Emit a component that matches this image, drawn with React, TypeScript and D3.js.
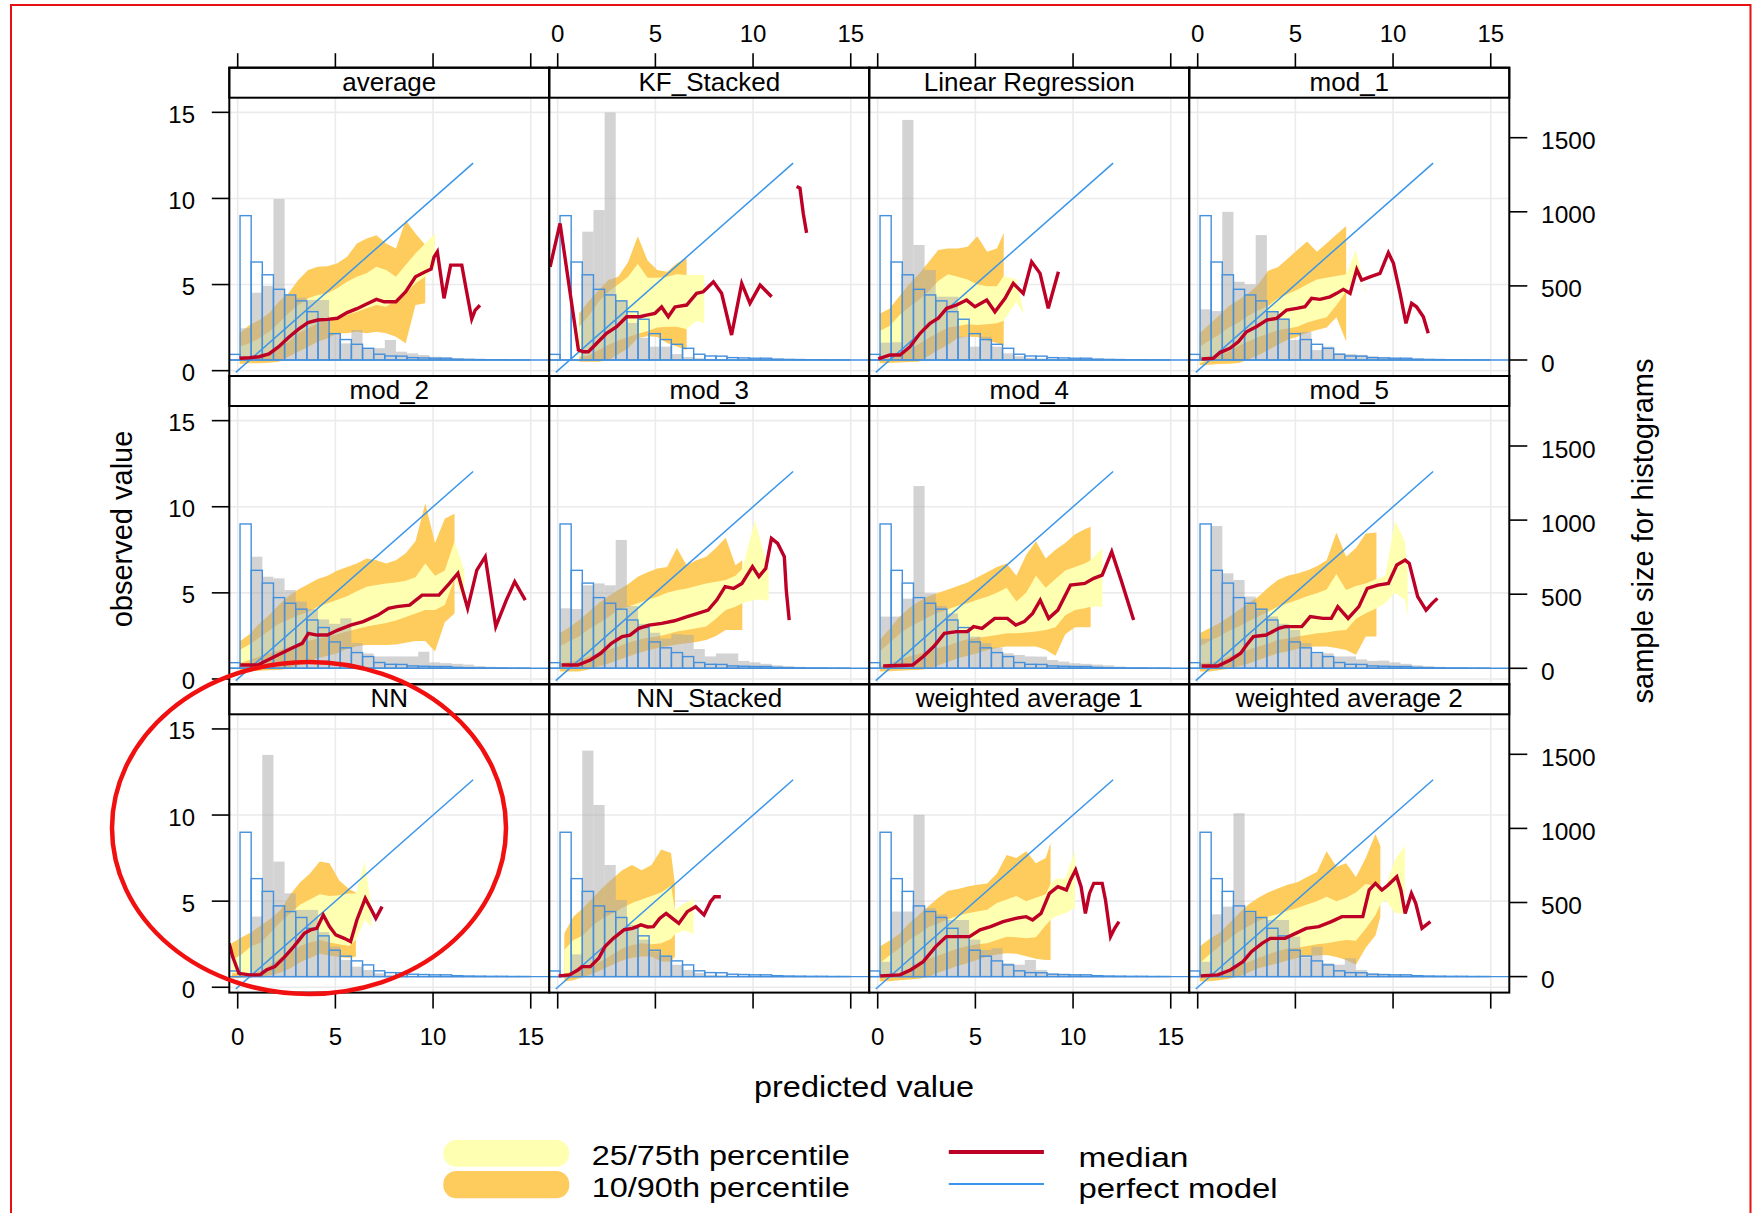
import React from "react";
import * as d3 from "d3";

// ---------- categories / ticks ----------
const PANEL_NAMES = [
  "average", "KF_Stacked", "Linear Regression", "mod_1",
  "mod_2", "mod_3", "mod_4", "mod_5",
  "NN", "NN_Stacked", "weighted average 1", "weighted average 2",
];
const X_TICKS = [0, 5, 10, 15];
const Y_TICKS = [0, 5, 10, 15];
const COUNT_TICKS = [0, 500, 1000, 1500];
const BIN_START = -0.45;
const BIN_WIDTH = 0.57;
const PERFECT_RANGE = [-0.1, 12.05];

// histogram of observed values (blue outline, same in every panel)
const OBS_COUNTS = [38, 974, 661, 575, 477, 439, 399, 326, 275, 178, 138, 106, 79, 39, 27, 26, 16, 14, 12, 12, 6, 4, 3, 2, 2, 1, 1, 0, 0, 0];

// ---------- average ----------
const avgXs = [0.1, 0.6, 1.1, 1.6, 2.1, 2.6, 3.1, 3.6, 4.1, 4.6, 5.1, 5.6, 6.1, 6.6, 7.1, 7.6, 8.1, 8.6, 9.1, 9.6, 10.1];
const avgQ10 = [0.39, 0.43, 0.43, 0.46, 0.52, 0.81, 1.1, 1.39, 1.68, 1.88, 2.17, 2.17, 2.26, 2.17, 2.26, 2.17, 1.97, 1.59, 3.81, 3.91, null];
const avgQ25 = [0.62, 0.72, 0.81, 1.01, 1.3, 1.68, 2.17, 2.46, 2.75, 2.94, 3.13, 3.23, 3.42, 3.62, 3.81, 3.71, 4.1, 4.49, 5.07, 5.45, 6.03];
const avgQ75 = [1.39, 1.59, 1.88, 2.26, 2.75, 3.33, 3.81, 4.2, 4.39, 4.49, 4.78, 5.16, 5.45, 5.65, 6.03, 5.84, 5.45, 6.13, 6.81, 7.39, 7.97];
const avgQ90 = [2.17, 2.65, 2.94, 3.33, 4.0, 4.49, 5.26, 5.84, 6.03, 6.07, 6.23, 6.62, 7.39, 7.68, 7.87, 7.39, 7.1, 8.74, 7.97, 7.3, null];
const avgMed = [[0.1, 0.72], [0.6, 0.75], [1.1, 0.81], [1.6, 0.97], [2.1, 1.39], [2.6, 1.93], [3.1, 2.4], [3.6, 2.79], [4.1, 2.94], [4.6, 2.98], [5.1, 3.04], [5.6, 3.37], [6.1, 3.6], [6.6, 3.87], [7.1, 4.14], [7.5, 4.0], [8.1, 4.0], [8.6, 4.58], [9.1, 5.45], [9.6, 5.74], [9.9, 5.9], [10.05, 6.6], [10.22, 6.9], [10.56, 4.2], [10.9, 6.13], [11.47, 6.13], [11.7, 4.7], [11.98, 3.0], [12.15, 3.5], [12.4, 3.8]];
const avgGray = [0, 214, 454, 500, 1086, 439, 420, 405, 405, 180, 112, 202, 75, 80, 135, 56, 45, 34, 22, 18, 11, 9, 5, 3, 2, 1, 0, 0, 0, 0];

// ---------- KF_Stacked ----------
const kfXs = [1.1, 1.6, 2.1, 2.6, 3.1, 3.6, 4.1, 4.6, 5.1, 5.6, 6.1, 6.6, 7.1, 7.5];
const kfQ10 = [0.52, 0.52, 0.52, 0.6, 0.95, 1.3, 1.9, 2.0, 1.95, 1.6, 1.4, 1.2, null, null];
const kfQ25 = [0.81, 0.9, 1.2, 1.5, 1.75, 1.95, 2.15, 2.3, 2.5, 2.55, 2.55, 2.4, 2.9, 2.75];
const kfQ75 = [2.55, 3.2, 4.0, 4.6, 5.0, 5.45, 6.2, 5.4, 5.4, 5.45, 5.6, 5.55, 5.55, 5.55];
const kfQ90 = [3.33, 4.05, 4.68, 5.26, 5.45, 6.3, 7.8, 6.4, 5.84, 5.75, 6.23, 6.52, null, null];
const kfMed = [[-0.39, 6.03], [0.12, 8.55], [1.06, 1.2], [1.31, 1.1], [1.57, 1.1], [2.0, 1.59], [2.5, 2.17], [3.02, 2.55], [3.53, 3.13], [4.21, 3.13], [4.55, 3.23], [4.98, 3.33], [5.32, 3.7], [5.66, 3.13], [6.0, 3.7], [6.6, 3.81], [7.11, 4.49], [7.45, 4.58], [7.97, 5.16], [8.39, 4.49], [8.9, 2.07], [9.42, 5.07], [9.84, 3.91], [10.36, 4.97], [10.95, 4.29], null, [12.23, 10.7], [12.4, 10.6], [12.57, 9.13], [12.74, 8.0]];
const kfGray = [0, 0, 0, 866, 1012, 1670, 400, 250, 150, 90, 90, 40, 20, 12, 8, 5, 3, 2, 1, 0, 0, 0, 0, 0, 0, 0, 0, 0, 0, 0];

// ---------- Linear Regression ----------
const lrXs = [0.1, 0.6, 1.1, 1.6, 2.1, 2.6, 3.1, 3.6, 4.1, 4.6, 5.1, 5.6, 6.1, 6.45, 7.1, 7.45];
const lrQ10 = [0.43, 0.45, 0.48, 0.5, 0.52, 0.85, 1.2, 1.5, 1.9, 1.97, 1.95, 1.75, 1.6, 1.45, null, null];
const lrQ25 = [0.62, 0.7, 0.9, 1.2, 1.55, 1.9, 2.2, 2.5, 2.6, 2.7, 2.65, 2.7, 2.75, 2.9, 4.0, 3.3];
const lrQ75 = [2.3, 2.6, 3.2, 3.7, 4.1, 4.6, 5.2, 5.6, 5.45, 5.3, 5.0, 4.9, 4.9, 5.5, 5.3, 3.5];
const lrQ90 = [3.3, 3.6, 4.3, 5.0, 5.6, 6.3, 7.0, 7.1, 7.1, 7.2, 7.8, 6.9, 7.1, 8.0, null, null];
const lrMed = [[0.03, 0.68], [0.63, 0.91], [1.14, 0.91], [1.65, 1.39], [2.17, 2.17], [2.68, 2.75], [3.1, 3.04], [3.53, 3.62], [4.04, 3.81], [4.55, 4.1], [4.98, 3.71], [5.58, 4.1], [6.0, 3.42], [6.52, 4.2], [6.94, 5.07], [7.45, 4.49], [7.88, 6.32], [8.31, 5.65], [8.73, 3.62], [8.99, 4.68], [9.25, 5.74]];
const lrGray = [0, 117, 120, 1620, 776, 607, 427, 427, 157, 90, 157, 90, 45, 25, 15, 10, 8, 5, 3, 2, 1, 0, 0, 0, 0, 0, 0, 0, 0, 0];

// ---------- mod_1 ----------
const m1Xs = [0.1, 0.6, 1.1, 1.6, 2.1, 2.6, 3.1, 3.6, 4.1, 4.6, 5.1, 5.6, 6.1, 6.6, 7.1, 7.6, 8.1, 8.6];
const m1Q10 = [0.33, 0.35, 0.38, 0.4, 0.45, 0.65, 0.9, 1.2, 1.5, 1.8, 1.97, 2.2, 2.36, 2.5, 3.1, 1.7, null, null];
const m1Q25 = [0.43, 0.65, 0.9, 1.1, 1.45, 1.7, 1.95, 2.15, 2.35, 2.45, 2.55, 2.8, 2.95, 3.1, 3.8, 4.6, 5.6, 4.8];
const m1Q75 = [1.39, 1.75, 2.1, 2.5, 2.8, 3.2, 3.5, 3.75, 4.2, 4.45, 4.7, 5.0, 5.3, 5.4, 5.5, 5.6, 7.0, 4.5];
const m1Q90 = [2.17, 2.7, 3.2, 3.75, 4.1, 4.5, 5.0, 5.8, 6.0, 6.5, 7.0, 7.5, 6.9, 7.4, 7.9, 8.4, null, null];
const m1Med = [[0.2, 0.68], [0.8, 0.72], [1.14, 1.05], [1.65, 1.3], [2.08, 1.68], [2.5, 2.26], [3.0, 2.55], [3.53, 2.94], [4.04, 3.04], [4.55, 3.52], [5.07, 3.62], [5.49, 3.71], [5.83, 4.2], [6.26, 4.14], [6.77, 4.29], [7.11, 4.49], [7.45, 4.72], [7.8, 4.49], [8.14, 5.88], [8.39, 5.26], [8.82, 5.45], [9.33, 5.65], [9.76, 6.85], [10.02, 6.23], [10.36, 4.49], [10.66, 2.75], [10.95, 3.91], [11.2, 3.71], [11.55, 3.13], [11.8, 2.17]];
const m1Gray = [0, 342, 330, 1000, 528, 510, 843, 326, 281, 135, 190, 67, 90, 45, 40, 35, 25, 20, 15, 10, 8, 5, 4, 3, 2, 1, 1, 0, 0, 0];

// ---------- mod_2 ----------
const m2Xs = [0.1, 0.6, 1.1, 1.6, 2.1, 2.6, 3.1, 3.6, 4.1, 4.6, 5.1, 5.6, 6.1, 6.6, 7.1, 7.6, 8.1, 8.6, 9.1, 9.6, 10.1, 10.6, 11.1, 11.6];
const m2Q10 = [0.43, 0.45, 0.48, 0.5, 0.52, 0.6, 0.8, 1.0, 1.2, 1.35, 1.5, 1.75, 1.9, 1.97, 1.97, 1.97, 2.0, 2.1, 2.2, 2.2, 1.6, 3.3, 3.8, null];
const m2Q25 = [0.91, 1.1, 1.3, 1.5, 1.65, 1.85, 2.0, 2.2, 2.35, 2.45, 2.6, 2.75, 2.9, 3.05, 3.15, 3.25, 3.4, 3.6, 3.8, 4.0, 4.0, 4.3, 5.8, 4.5];
const m2Q75 = [1.68, 2.0, 2.4, 2.8, 3.2, 3.45, 3.7, 3.9, 4.2, 4.4, 4.6, 4.8, 5.1, 5.35, 5.45, 5.55, 5.6, 5.7, 5.9, 6.7, 6.0, 6.3, 8.0, 6.3];
const m2Q90 = [2.17, 2.6, 3.2, 3.7, 4.3, 4.8, 5.2, 5.5, 5.8, 6.0, 6.3, 6.5, 6.7, 7.0, 6.9, 6.7, 6.9, 7.3, 8.0, 10.2, 7.9, 9.3, 9.6, null];
const m2Med = [[0.13, 0.81], [1.03, 0.81], [1.9, 1.3], [2.76, 1.78], [3.3, 2.07], [3.62, 2.65], [4.05, 2.55], [4.59, 2.55], [5.13, 2.84], [5.78, 3.13], [6.42, 3.33], [7.18, 3.71], [7.72, 4.1], [8.15, 4.2], [8.8, 4.29], [9.44, 4.87], [10.3, 4.87], [10.84, 5.55], [11.27, 6.13], [11.77, 4.1], [12.24, 6.32], [12.67, 7.1], [13.21, 3.04], [13.75, 4.58], [14.18, 5.65], [14.72, 4.58]];
const m2Gray = [0, 30, 753, 618, 607, 528, 450, 400, 330, 300, 337, 170, 100, 80, 80, 80, 80, 112, 40, 35, 30, 25, 15, 10, 5, 3, 2, 1, 0, 0];

// ---------- mod_3 ----------
const m3Xs = [0.1, 0.6, 1.1, 1.6, 2.1, 2.6, 3.1, 3.6, 4.1, 4.6, 5.1, 5.6, 6.1, 6.6, 7.1, 7.6, 8.1, 8.6, 9.1, 9.45, 10.1, 10.6, 10.8];
const m3Q10 = [0.43, 0.43, 0.43, 0.55, 0.72, 0.9, 1.1, 1.3, 1.5, 1.65, 1.8, 1.9, 2.0, 2.07, 2.15, 2.26, 2.5, 2.84, 2.84, 2.84, null, null, null];
const m3Q25 = [0.91, 1.0, 1.1, 1.3, 1.49, 1.7, 1.88, 2.1, 2.26, 2.4, 2.46, 2.6, 2.75, 2.84, 2.95, 3.04, 3.5, 4.0, 4.2, 4.4, 4.6, 4.6, 4.5];
const m3Q75 = [1.88, 2.2, 2.46, 2.9, 3.23, 3.6, 4.0, 4.2, 4.4, 4.6, 4.78, 5.0, 5.15, 5.26, 5.4, 5.55, 5.65, 5.74, 6.0, 6.4, 9.2, 7.1, 6.3];
const m3Q90 = [2.65, 3.0, 3.42, 3.9, 4.39, 4.8, 5.16, 5.5, 5.94, 6.2, 6.42, 6.5, 7.6, 6.6, 6.9, 7.1, 7.6, 8.2, 6.6, 6.9, null, null, null];
const m3Med = [[0.2, 0.81], [1.03, 0.81], [1.67, 1.1], [2.2, 1.49], [2.75, 2.07], [3.3, 2.46], [3.7, 2.55], [4.15, 2.94], [4.68, 3.13], [5.33, 3.23], [5.98, 3.38], [6.63, 3.62], [7.17, 3.81], [7.7, 4.0], [8.14, 4.58], [8.57, 5.36], [9.0, 5.26], [9.43, 5.55], [9.97, 6.52], [10.3, 5.94], [10.65, 6.42], [10.94, 8.16], [11.26, 7.87], [11.6, 7.1], [11.7, 5.16], [11.85, 3.42]];
const m3Gray = [0, 405, 400, 560, 573, 560, 866, 420, 300, 240, 200, 230, 225, 130, 80, 100, 100, 50, 40, 30, 20, 15, 10, 5, 3, 2, 1, 0, 0, 0];

// ---------- mod_4 ----------
const m4Xs = [0.1, 0.6, 1.1, 1.6, 2.1, 2.6, 3.1, 3.6, 4.1, 4.6, 5.1, 5.6, 6.1, 6.6, 7.1, 7.6, 8.1, 8.6, 9.1, 9.6, 10.1, 10.6, 10.9, 11.5];
const m4Q10 = [0.43, 0.45, 0.48, 0.5, 0.52, 0.6, 0.8, 1.0, 1.2, 1.35, 1.5, 1.68, 1.8, 1.88, 1.88, 1.88, 1.88, 1.7, 1.35, 2.6, 3.0, 3.0, 3.0, null];
const m4Q25 = [0.72, 0.9, 1.1, 1.3, 1.45, 1.6, 1.8, 1.95, 2.15, 2.3, 2.4, 2.46, 2.55, 2.65, 2.65, 2.7, 2.75, 2.84, 3.0, 3.7, 4.0, 4.1, 4.2, 4.2];
const m4Q75 = [1.59, 2.1, 2.6, 3.0, 3.3, 3.6, 3.85, 4.05, 4.25, 4.4, 4.6, 4.78, 5.0, 5.3, 4.5, 5.0, 6.0, 5.3, 5.8, 6.3, 6.5, 6.7, 6.9, 7.6];
const m4Q90 = [2.26, 2.9, 3.6, 4.1, 4.5, 4.8, 5.0, 5.2, 5.4, 5.6, 5.9, 6.2, 6.5, 6.7, 6.0, 7.2, 8.0, 7.0, 7.5, 7.9, 8.4, 8.7, 8.84, null];
const m4Med = [[0.28, 0.75], [1.79, 0.81], [2.33, 1.3], [2.87, 1.88], [3.41, 2.65], [4.05, 2.75], [4.59, 2.75], [4.91, 3.04], [5.34, 2.94], [5.99, 3.52], [6.64, 3.52], [7.07, 3.13], [7.5, 3.33], [7.93, 3.81], [8.32, 4.58], [8.75, 3.52], [9.22, 4.0], [9.87, 5.45], [10.6, 5.55], [11.06, 5.84], [11.49, 6.03], [11.98, 7.39], [12.46, 5.74], [13.1, 3.42]];
const m4Gray = [0, 349, 349, 470, 1230, 506, 420, 370, 259, 214, 169, 140, 101, 90, 80, 79, 56, 45, 34, 30, 25, 20, 12, 8, 5, 3, 2, 1, 0, 0];

// ---------- mod_5 ----------
const m5Xs = [0.1, 0.6, 1.1, 1.6, 2.1, 2.6, 3.1, 3.6, 4.1, 4.6, 5.1, 5.6, 6.1, 6.6, 7.1, 7.6, 8.1, 8.6, 9.15, 9.6, 10.1, 10.6, 10.75];
const m5Q10 = [0.43, 0.43, 0.5, 0.6, 0.72, 0.9, 1.1, 1.3, 1.49, 1.6, 1.75, 1.85, 1.88, 1.88, 1.8, 1.68, 1.4, 2.46, 2.46, null, null, null, null];
const m5Q25 = [0.91, 0.95, 1.05, 1.3, 1.49, 1.7, 1.88, 2.05, 2.26, 2.35, 2.46, 2.55, 2.65, 2.7, 2.8, 2.84, 3.5, 3.81, 4.1, 4.4, 5.0, 4.6, 3.6];
const m5Q75 = [1.88, 2.2, 2.46, 2.8, 3.04, 3.35, 3.62, 3.9, 4.2, 4.4, 4.58, 4.8, 4.97, 5.2, 6.1, 5.16, 5.4, 5.55, 5.8, 6.0, 9.2, 8.0, 6.3];
const m5Q90 = [2.65, 2.95, 3.23, 3.6, 4.0, 4.4, 4.78, 5.3, 5.74, 6.0, 6.13, 6.3, 6.55, 6.9, 8.5, 7.1, 7.6, 8.45, 8.5, null, null, null, null];
const m5Med = [[0.2, 0.75], [1.03, 0.75], [1.67, 1.1], [2.2, 1.49], [2.5, 1.97], [2.85, 2.46], [3.5, 2.55], [4.15, 2.94], [4.47, 3.04], [5.33, 3.04], [5.76, 3.62], [6.41, 3.52], [6.84, 3.52], [7.17, 4.2], [7.7, 3.52], [8.25, 4.2], [8.68, 5.26], [9.22, 5.45], [9.76, 5.55], [10.19, 6.62], [10.62, 6.9], [10.83, 6.71], [11.26, 4.78], [11.69, 4.0], [12.0, 4.39], [12.27, 4.68]];
const m5Gray = [0, 200, 960, 641, 596, 484, 390, 350, 300, 259, 170, 100, 101, 80, 80, 60, 50, 52, 40, 30, 20, 15, 10, 5, 3, 2, 1, 0, 0, 0];

// ---------- NN ----------
const nnXs = [-0.3, 0.2, 0.7, 1.2, 1.7, 2.2, 2.7, 3.2, 3.7, 4.2, 4.7, 5.2, 5.7, 6.05, 6.5, 6.85];
const nnQ10 = [0.52, 0.55, 0.58, 0.62, 0.7, 0.85, 1.1, 1.45, 1.7, 1.95, 1.85, 1.75, 1.7, 1.78, null, null];
const nnQ25 = [0.81, 0.81, 0.81, 0.95, 1.3, 1.7, 2.05, 2.4, 2.6, 2.75, 2.6, 2.5, 2.4, 2.75, 3.9, 3.5];
const nnQ75 = [1.59, 1.9, 2.4, 2.6, 3.2, 3.8, 4.3, 4.8, 5.1, 5.4, 5.3, 5.35, 5.45, 5.45, 7.3, 4.6];
const nnQ90 = [2.55, 2.9, 3.2, 3.6, 4.0, 4.5, 5.4, 6.1, 6.6, 7.3, 7.2, 6.2, 5.7, 5.5, null, null];
const nnMed = [[-0.43, 2.55], [-0.26, 1.78], [0.06, 0.81], [0.6, 0.72], [1.14, 0.72], [1.47, 1.0], [1.9, 1.2], [2.33, 1.68], [2.87, 2.36], [3.41, 3.13], [3.73, 3.33], [4.05, 3.42], [4.38, 4.2], [4.7, 3.52], [5.02, 3.04], [5.45, 2.84], [5.78, 2.65], [6.1, 3.91], [6.53, 5.16], [6.85, 4.49], [7.07, 4.0], [7.39, 4.68]];
const nnGray = [0, 0, 405, 1496, 776, 562, 450, 450, 300, 202, 112, 67, 45, 22, 12, 8, 5, 3, 2, 1, 0, 0, 0, 0, 0, 0, 0, 0, 0, 0];

// ---------- NN_Stacked ----------
const nsXs = [0.34, 0.8, 1.3, 1.8, 2.3, 2.8, 3.3, 3.8, 4.3, 4.8, 5.3, 5.8, 6.0, 6.5, 6.95];
const nsQ10 = [0.33, 0.4, 0.6, 0.78, 1.05, 1.3, 1.55, 1.72, 1.78, 1.78, 1.5, 1.5, 1.78, null, null];
const nsQ25 = [0.81, 0.9, 1.1, 1.3, 1.55, 1.9, 2.25, 2.45, 2.55, 2.5, 2.55, 2.8, 3.1, 3.3, 3.1];
const nsQ75 = [2.17, 2.75, 3.0, 3.6, 4.0, 4.3, 4.6, 4.9, 5.1, 5.3, 5.5, 5.9, 4.5, 4.9, 5.1];
const nsQ90 = [3.13, 4.1, 4.6, 5.2, 5.8, 6.3, 6.8, 7.1, 6.8, 7.1, 8.0, 7.8, 6.0, null, null];
const nsMed = [[0.05, 0.66], [0.6, 0.72], [1.03, 1.0], [1.24, 1.2], [1.67, 1.2], [2.1, 1.68], [2.42, 2.36], [2.85, 2.84], [3.39, 3.33], [3.83, 3.42], [4.26, 3.62], [4.6, 3.5], [4.9, 3.52], [5.22, 4.0], [5.55, 4.29], [5.87, 4.0], [6.2, 3.71], [6.63, 4.39], [7.06, 4.68], [7.49, 4.2], [7.82, 4.97], [8.03, 5.26], [8.35, 5.26]];
const nsGray = [0, 0, 150, 1525, 1158, 753, 517, 349, 250, 169, 135, 80, 45, 25, 12, 8, 5, 3, 2, 1, 0, 0, 0, 0, 0, 0, 0, 0, 0, 0];

// ---------- weighted average 1 ----------
const w1Xs = [0.1, 0.6, 1.1, 1.6, 2.1, 2.6, 3.1, 3.6, 4.1, 4.6, 5.1, 5.6, 6.1, 6.6, 7.1, 7.6, 8.1, 8.6, 8.85, 9.1, 9.6, 10.1];
const w1Q10 = [0.33, 0.35, 0.4, 0.45, 0.5, 0.6, 0.85, 1.05, 1.25, 1.4, 1.6, 1.78, 1.9, 1.97, 1.95, 1.8, 1.65, 1.59, 1.59, null, null, null];
const w1Q25 = [0.62, 0.7, 0.81, 1.1, 1.35, 1.65, 1.85, 2.05, 2.25, 2.4, 2.5, 2.55, 2.75, 2.94, 2.9, 2.85, 2.9, 3.6, 3.9, 4.1, 4.3, 4.6];
const w1Q75 = [1.39, 1.85, 2.25, 2.75, 3.1, 3.5, 3.7, 3.95, 4.15, 4.3, 4.4, 4.5, 4.9, 5.1, 5.3, 5.0, 5.2, 5.4, 6.0, 6.3, 6.3, 7.9];
const w1Q90 = [2.36, 2.7, 3.1, 3.7, 4.2, 4.7, 5.2, 5.6, 5.7, 5.85, 5.95, 6.03, 6.6, 7.68, 7.5, 7.9, 7.2, 7.5, 8.38, null, null, null];
const w1Med = [[0.13, 0.66], [1.14, 0.72], [1.68, 1.0], [2.33, 1.49], [2.97, 2.36], [3.51, 2.94], [4.05, 2.94], [4.7, 2.94], [5.24, 3.33], [5.78, 3.52], [6.42, 3.81], [7.07, 4.0], [7.6, 4.1], [7.93, 3.91], [8.36, 4.29], [8.79, 5.45], [9.22, 5.84], [9.66, 5.65], [9.87, 6.23], [10.13, 6.81], [10.41, 5.84], [10.63, 4.29], [10.84, 5.45], [11.06, 6.03], [11.49, 6.03], [11.66, 5.07], [11.92, 2.94], [12.13, 3.42], [12.35, 3.81]];
const w1Gray = [0, 100, 439, 439, 1092, 461, 420, 382, 382, 250, 180, 191, 90, 80, 112, 45, 22, 18, 12, 8, 5, 3, 2, 1, 0, 0, 0, 0, 0, 0];

// ---------- weighted average 2 ----------
const w2Xs = [0.1, 0.6, 1.1, 1.6, 2.1, 2.6, 3.1, 3.6, 4.1, 4.6, 5.1, 5.6, 6.1, 6.6, 7.1, 7.6, 8.1, 8.6, 9.1, 9.35, 9.6, 10.1, 10.6];
const w2Q10 = [0.33, 0.35, 0.4, 0.5, 0.62, 0.85, 1.1, 1.25, 1.4, 1.55, 1.7, 1.8, 1.85, 1.88, 1.75, 1.59, 1.3, 2.3, 3.0, 4.1, null, null, null];
const w2Q25 = [0.62, 0.7, 0.81, 1.0, 1.2, 1.45, 1.7, 1.9, 2.1, 2.25, 2.3, 2.4, 2.5, 2.55, 2.65, 2.75, 2.7, 3.4, 4.2, 4.8, 5.1, 4.3, 4.3];
const w2Q75 = [1.39, 1.9, 2.36, 2.8, 3.23, 3.55, 3.85, 4.1, 4.25, 4.45, 4.6, 4.8, 5.0, 5.26, 5.0, 5.2, 5.5, 6.0, 5.9, 5.5, 5.8, 7.4, 8.2];
const w2Q90 = [2.36, 2.8, 3.13, 3.7, 4.29, 4.8, 5.2, 5.5, 5.74, 5.95, 6.1, 6.4, 6.7, 7.9, 7.0, 7.2, 6.4, 7.5, 8.9, 8.2, null, null, null];
const w2Med = [[0.16, 0.66], [1.03, 0.72], [1.67, 1.0], [2.32, 1.49], [2.75, 2.07], [3.29, 2.55], [3.72, 2.84], [4.47, 2.84], [5.01, 3.13], [5.55, 3.42], [6.2, 3.52], [6.84, 3.81], [7.38, 4.1], [8.03, 4.1], [8.45, 4.1], [8.78, 5.65], [9.1, 6.03], [9.43, 5.65], [9.75, 5.94], [10.19, 6.42], [10.4, 5.65], [10.62, 4.29], [10.94, 5.45], [11.16, 4.87], [11.48, 3.42], [11.7, 3.62], [11.91, 3.81]];
const w2Gray = [0, 100, 420, 472, 1102, 430, 400, 382, 382, 270, 130, 202, 90, 80, 124, 45, 22, 15, 10, 8, 5, 3, 2, 1, 0, 0, 0, 0, 0, 0];

const PANEL_XS = [avgXs, kfXs, lrXs, m1Xs, m2Xs, m3Xs, m4Xs, m5Xs, nnXs, nsXs, w1Xs, w2Xs];
const PANEL_Q10 = [avgQ10, kfQ10, lrQ10, m1Q10, m2Q10, m3Q10, m4Q10, m5Q10, nnQ10, nsQ10, w1Q10, w2Q10];
const PANEL_Q25 = [avgQ25, kfQ25, lrQ25, m1Q25, m2Q25, m3Q25, m4Q25, m5Q25, nnQ25, nsQ25, w1Q25, w2Q25];
const PANEL_Q75 = [avgQ75, kfQ75, lrQ75, m1Q75, m2Q75, m3Q75, m4Q75, m5Q75, nnQ75, nsQ75, w1Q75, w2Q75];
const PANEL_Q90 = [avgQ90, kfQ90, lrQ90, m1Q90, m2Q90, m3Q90, m4Q90, m5Q90, nnQ90, nsQ90, w1Q90, w2Q90];
const PANEL_MED = [avgMed, kfMed, lrMed, m1Med, m2Med, m3Med, m4Med, m5Med, nnMed, nsMed, w1Med, w2Med];
const PANEL_GRAY = [avgGray, kfGray, lrGray, m1Gray, m2Gray, m3Gray, m4Gray, m5Gray, nnGray, nsGray, w1Gray, w2Gray];

// ---------- layout & style ----------
const W = 1754;
const H = 1213;
const LEFT = 229.3;
const PW = 320;
const TOP = 67.7;
const RH = 308.3;
const SH = 30;
const X_DOMAIN = [-0.43, 15.95];
const Y_DOMAIN = [-0.31, 15.85];
const FONT = "'Liberation Sans', Arial, Helvetica, sans-serif";
const C_YEL = "#FFFFB2";
const C_ORA = "#FECC5C";
const C_MED = "#BD0026";
const C_LINE = "#3A96EA";
const C_HIST = "#4590DD";
const C_GRAY = "#A8A8A8";
const C_GRID = "#EBEBEB";

function Panel({ idx }) {
  const col = idx % 4;
  const row = Math.floor(idx / 4);
  const L = LEFT + col * PW;
  const R = L + PW;
  const T = TOP + row * RH;
  const B = T + RH;
  const x = d3.scaleLinear().domain(X_DOMAIN).range([L, R]);
  const y = d3.scaleLinear().domain(Y_DOMAIN).range([B, T + SH]);
  const cnt = d3.scaleLinear().domain([0, 1500]).range([B - 16, B - 238.3]);

  const xs = PANEL_XS[idx];
  const rows = xs.map((xv, k) => ({
    x: xv,
    q10: PANEL_Q10[idx][k],
    q25: PANEL_Q25[idx][k],
    q75: PANEL_Q75[idx][k],
    q90: PANEL_Q90[idx][k],
  }));
  const outer = d3.area()
    .defined((r) => r.q10 != null && r.q90 != null)
    .x((r) => x(r.x)).y0((r) => y(r.q10)).y1((r) => y(r.q90))(rows);
  const inner = d3.area()
    .defined((r) => r.q25 != null && r.q75 != null)
    .x((r) => x(r.x)).y0((r) => y(r.q25)).y1((r) => y(r.q75))(rows);
  const med = d3.line()
    .defined((p) => p != null)
    .x((p) => x(p[0])).y((p) => y(p[1]))(PANEL_MED[idx]);
  const clipId = `clip-${idx}`;
  const binX = (k) => x(BIN_START + k * BIN_WIDTH);

  return (
    <g>
      <defs>
        <clipPath id={clipId}>
          <rect x={L} y={T + SH} width={PW} height={RH - SH} />
        </clipPath>
      </defs>
      <rect x={L} y={T + SH} width={PW} height={RH - SH} fill="#fff" />
      <g clipPath={`url(#${clipId})`}>
        {X_TICKS.map((t) => (
          <line key={`gx${t}`} x1={x(t)} x2={x(t)} y1={T + SH} y2={B} stroke={C_GRID} strokeWidth={1.6} />
        ))}
        {Y_TICKS.map((t) => (
          <line key={`gy${t}`} x1={L} x2={R} y1={y(t)} y2={y(t)} stroke={C_GRID} strokeWidth={1.6} />
        ))}
        <path d={outer} fill={C_ORA} />
        <path d={inner} fill={C_YEL} />
        {PANEL_GRAY[idx].map((v, k) =>
          v > 0 ? (
            <rect key={`g${k}`} x={binX(k)} width={binX(k + 1) - binX(k)} y={cnt(v)} height={cnt(0) - cnt(v)} fill={C_GRAY} fillOpacity={0.5} />
          ) : null
        )}
        {OBS_COUNTS.map((v, k) =>
          v > 0 ? (
            <rect key={`b${k}`} x={binX(k)} width={binX(k + 1) - binX(k)} y={cnt(v)} height={cnt(0) - cnt(v)} fill="none" stroke={C_HIST} strokeWidth={1.4} />
          ) : null
        )}
        <line x1={L} x2={R} y1={cnt(0)} y2={cnt(0)} stroke={C_HIST} strokeWidth={1.4} />
        <line x1={x(PERFECT_RANGE[0])} y1={y(PERFECT_RANGE[0])} x2={x(PERFECT_RANGE[1])} y2={y(PERFECT_RANGE[1])} stroke={C_LINE} strokeWidth={1.5} />
        <path d={med} fill="none" stroke={C_MED} strokeWidth={3.4} strokeLinejoin="miter" />
      </g>
      <rect x={L} y={T} width={PW} height={SH} fill="#fff" stroke="#000" strokeWidth={2} />
      <text x={(L + R) / 2} y={T + 23} textAnchor="middle" fontFamily={FONT} fontSize={26} fill="#000">
        {PANEL_NAMES[idx]}
      </text>
      <rect x={L} y={T} width={PW} height={RH} fill="none" stroke="#000" strokeWidth={2} />
    </g>
  );
}

function Axes() {
  const items = [];
  const bottomY = TOP + 3 * RH;
  for (let col = 0; col < 4; col++) {
    const L = LEFT + col * PW;
    const x = d3.scaleLinear().domain(X_DOMAIN).range([L, L + PW]);
    X_TICKS.forEach((t) => {
      items.push(<line key={`tt${col}${t}`} x1={x(t)} x2={x(t)} y1={TOP - 14.5} y2={TOP} stroke="#000" strokeWidth={1.6} />);
      items.push(<line key={`bt${col}${t}`} x1={x(t)} x2={x(t)} y1={bottomY} y2={bottomY + 16} stroke="#000" strokeWidth={1.6} />);
      if (col % 2 === 1) {
        items.push(<text key={`tl${col}${t}`} x={x(t)} y={41.7} textAnchor="middle" fontFamily={FONT} fontSize={24}>{t}</text>);
      } else {
        items.push(<text key={`bl${col}${t}`} x={x(t)} y={1045} textAnchor="middle" fontFamily={FONT} fontSize={24}>{t}</text>);
      }
    });
  }
  for (let row = 0; row < 3; row++) {
    const T = TOP + row * RH;
    const B = T + RH;
    const y = d3.scaleLinear().domain(Y_DOMAIN).range([B, T + SH]);
    const cnt = d3.scaleLinear().domain([0, 1500]).range([B - 16, B - 238.3]);
    const R = LEFT + 4 * PW;
    Y_TICKS.forEach((t) => {
      items.push(<line key={`lt${row}${t}`} x1={LEFT - 17.5} x2={LEFT} y1={y(t)} y2={y(t)} stroke="#000" strokeWidth={1.6} />);
      items.push(<text key={`ll${row}${t}`} x={195} y={y(t) + 10.5} textAnchor="end" fontFamily={FONT} fontSize={24}>{t}</text>);
    });
    COUNT_TICKS.forEach((t) => {
      items.push(<line key={`rt${row}${t}`} x1={R} x2={R + 18} y1={cnt(t)} y2={cnt(t)} stroke="#000" strokeWidth={1.6} />);
      items.push(<text key={`rl${row}${t}`} x={1541} y={cnt(t) + 11.5} textAnchor="start" fontFamily={FONT} fontSize={24.5}>{t}</text>);
    });
  }
  return <g fill="#000">{items}</g>;
}

function Legend() {
  return (
    <g fontFamily={FONT} fill="#000">
      <rect x={443.3} y={1140} width={126} height={26.7} rx={13} fill={C_YEL} />
      <rect x={443.3} y={1171} width={126} height={27.3} rx={13} fill={C_ORA} />
      <text x={591.7} y={1165} fontSize={27} textLength={258} lengthAdjust="spacingAndGlyphs">25/75th percentile</text>
      <text x={591.7} y={1196.7} fontSize={27} textLength={258} lengthAdjust="spacingAndGlyphs">10/90th percentile</text>
      <line x1={948.8} x2={1043.9} y1={1152} y2={1152} stroke={C_MED} strokeWidth={4} />
      <line x1={948.8} x2={1043.9} y1={1184} y2={1184} stroke={C_LINE} strokeWidth={2} />
      <text x={1078.5} y={1166.7} fontSize={27} textLength={110} lengthAdjust="spacingAndGlyphs">median</text>
      <text x={1078.5} y={1198} fontSize={27} textLength={199} lengthAdjust="spacingAndGlyphs">perfect model</text>
    </g>
  );
}

export default function App() {
  return (
    <svg
      width={W}
      height={H}
      viewBox={`0 0 ${W} ${H}`}
      style={{ position: "absolute", left: 0, top: 0, background: "#fff" }}
    >
      <rect x={0} y={0} width={W} height={H} fill="#fff" />
      <rect x={11} y={5} width={1739.5} height={1240} fill="none" stroke="#E81010" strokeWidth={2} />
      {PANEL_NAMES.map((_, i) => (
        <Panel key={i} idx={i} />
      ))}
      <Axes />
      <text x={864} y={1096.7} textAnchor="middle" fontFamily={FONT} fontSize={29} textLength={220} lengthAdjust="spacingAndGlyphs">
        predicted value
      </text>
      <text transform="translate(131.7,529) rotate(-90)" textAnchor="middle" fontFamily={FONT} fontSize={29}>
        observed value
      </text>
      <text transform="translate(1653,531) rotate(-90)" textAnchor="middle" fontFamily={FONT} fontSize={29}>
        sample size for histograms
      </text>
      <Legend />
      <ellipse cx={309} cy={828} rx={197} ry={166} fill="none" stroke="#F01010" strokeWidth={4.5} />
    </svg>
  );
}
